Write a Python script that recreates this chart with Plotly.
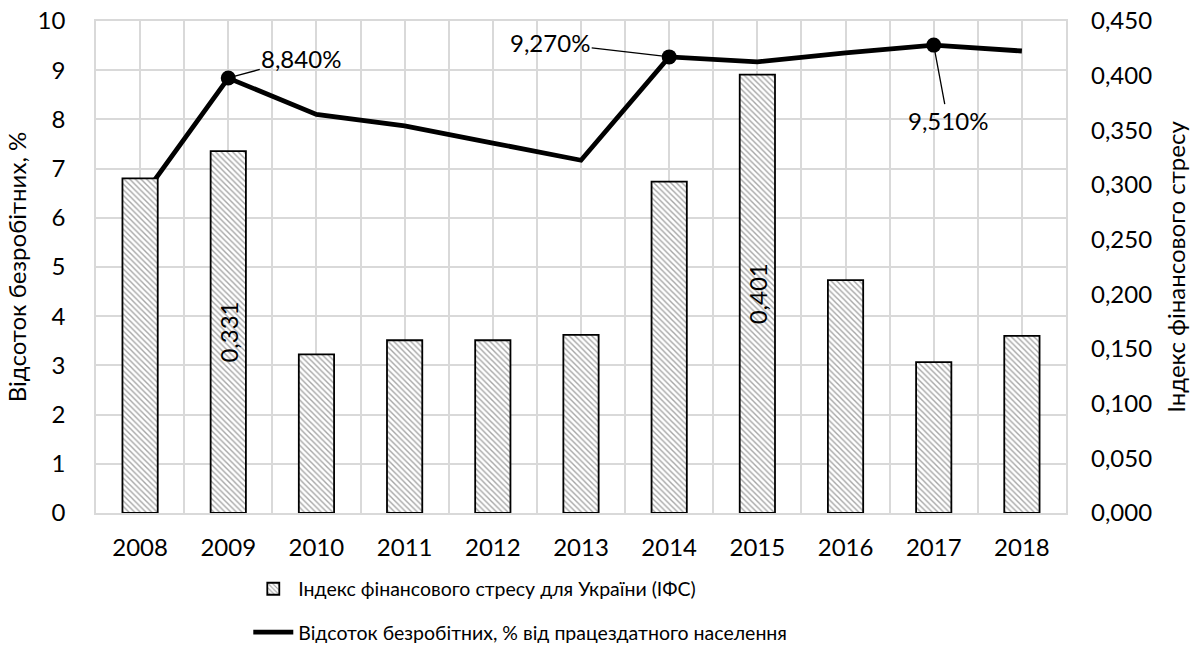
import plotly.graph_objects as go

years = ["2008", "2009", "2010", "2011", "2012", "2013", "2014", "2015", "2016", "2017", "2018"]
stress_index = [0.306, 0.331, 0.145, 0.158, 0.158, 0.163, 0.303, 0.401, 0.213, 0.138, 0.162]
unemployment = [6.36, 8.84, 8.10, 7.87, 7.52, 7.17, 9.27, 9.17, 9.35, 9.51, 9.39]
bar_label_years = ["2009", "2015"]
line_label_years = ["2009", "2014", "2017"]

bar_name = "Індекс фінансового стресу для України (ІФС)"
line_name = "Відсоток безробітних, % від працездатного населення"
left_title = "Відсоток безробітних, %"
right_title = "Індекс фінансового стресу"

FONT = "Lato"
FS = 24
LFS = 19.5
GRID = "#d9d9d9"

def fmt(v, d=3):
    return f"{v:.{d}f}".replace(".", ",")

xpos = list(range(len(years)))
bar_text = [fmt(v) if y in bar_label_years else "" for y, v in zip(years, stress_index)]

fig = go.Figure()

fig.add_trace(go.Bar(
    x=xpos, y=stress_index, name=bar_name, yaxis="y2", legendgroup="a",
    width=0.4,
    marker=dict(color="white", line=dict(color="black", width=1.8),
                pattern=dict(shape="\\", fgcolor="#4d4d4d", bgcolor="white", size=4, solidity=0.35)),
    text=bar_text, textposition="inside", insidetextanchor="middle", textangle=-90,
    textfont=dict(family=FONT, size=FS, color="black"),
))

fig.add_trace(go.Scatter(
    x=xpos, y=unemployment, name=line_name, mode="lines", legendgroup="b",
    line=dict(color="black", width=4.8),
))

hx = [i for i, y in zip(xpos, years) if y in line_label_years]
hy = [v for y, v in zip(years, unemployment) if y in line_label_years]
fig.add_trace(go.Scatter(
    x=hx, y=hy, mode="markers", showlegend=False,
    marker=dict(color="black", size=15),
))

offsets = {1: (73, -20), 6: (-119, -14), 9: (14, 75)}
for x, v in zip(hx, hy):
    ax, ay = offsets[x]
    fig.add_annotation(x=x, y=v, text=fmt(v) + "%", showarrow=True, arrowhead=0,
                       arrowwidth=1.3, arrowcolor="black", ax=ax, ay=ay,
                       font=dict(family=FONT, size=FS, color="black"), standoff=6)

fig.update_layout(
    width=1198, height=670,
    margin=dict(l=96, r=132, t=21, b=157),
    paper_bgcolor="white", plot_bgcolor="white",
    separators=", ",
    font=dict(family=FONT, size=FS, color="black"),
    xaxis=dict(range=[-0.5, len(years) - 0.5], tickmode="array", tickvals=xpos, ticktext=years,
               showgrid=True, gridcolor=GRID, gridwidth=1.5,
               minor=dict(dtick=0.5, tick0=-0.5, showgrid=True, gridcolor=GRID, gridwidth=1.5),
               showline=True, mirror=True, linecolor=GRID, linewidth=1.5, ticks="",
               tickfont=dict(size=FS), ticklabelstandoff=12, zeroline=False, automargin=False),
    yaxis=dict(range=[0, 10], tickmode="array", tickvals=list(range(0, 11)),
               showgrid=True, gridcolor=GRID, gridwidth=1.5,
               showline=True, mirror=True, linecolor=GRID, linewidth=1.5,
               zeroline=False, ticks="", ticklabelstandoff=24, automargin=False,
               ticklabeloverflow="allow",
               title=dict(text=left_title, font=dict(size=FS), standoff=4)),
    yaxis2=dict(range=[0, 0.45], tickmode="array",
                tickvals=[i * 0.05 for i in range(10)], tickformat=".3f",
                overlaying="y", side="right",
                showgrid=False, zeroline=False, ticks="", ticklabelstandoff=24, automargin=False,
                ticklabeloverflow="allow",
                title=dict(text=right_title, font=dict(size=FS), standoff=16)),
    legend=dict(orientation="v", x=0.157, xanchor="left", y=-0.115, yanchor="top",
                font=dict(size=LFS), itemwidth=40, tracegroupgap=15,
                bgcolor="rgba(0,0,0,0)"),
    showlegend=True,
)

fig.write_html("out.html", config={"displayModeBar": False},
               post_script="document.body.style.margin='0px';")
